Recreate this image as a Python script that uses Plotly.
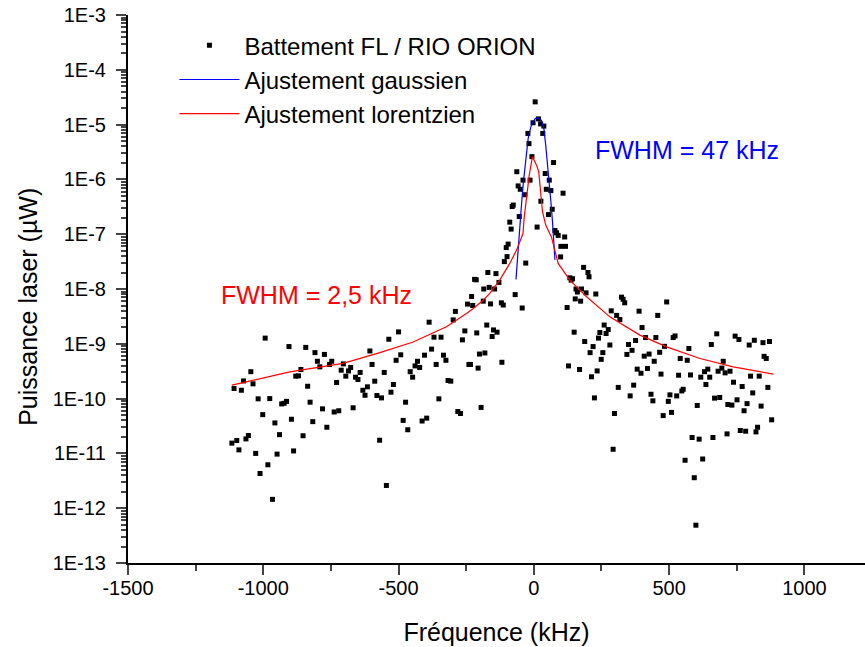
import plotly.graph_objects as go

# Battement FL / RIO ORION : points (kHz, µW)
freq_khz = [
    -1116, -1108, -1098, -1090, -1081, -1073, -1064, -1055, -1046, -1038, -1028, -1019,
    -1012, -1002, -993, -983, -976, -966, -957, -949, -940, -932, -923, -914, -905, -896,
    -888, -880, -870, -861, -853, -843, -836, -827, -817, -809, -800, -791, -781, -774,
    -765, -755, -747, -738, -729, -721, -712, -704, -695, -685, -677, -668, -659, -650,
    -642, -632, -624, -615, -606, -598, -588, -580, -570, -563, -553, -545, -536, -528,
    -519, -509, -500, -492, -483, -474, -466, -457, -448, -439, -430, -422, -413, -404,
    -396, -387, -378, -369, -361, -351, -343, -334, -325, -317, -307, -298, -290, -281,
    -271, -264, -255, -245, -240, -234, -230, -226, -219, -213, -211, -206, -201, -195,
    -187, -185, -181, -174, -170, -165, -160, -154, -149, -145, -140, -136, -129, -120,
    -118, -113, -109, -102, -99, -95, -89, -84, -80, -76, -69, -63, -58, -54, -50, -43,
    -40, -33, -30, -22, -18, -14, -7, -3, 5, 12, 17, 25, 26, 33, 37, 42, 46, 54, 57, 63,
    68, 73, 78, 84, 90, 99, 100, 108, 114, 117, 123, 128, 133, 138, 143, 149, 153, 156,
    161, 169, 173, 176, 184, 188, 193, 200, 204, 208, 213, 219, 224, 229, 234, 239, 244,
    249, 255, 260, 267, 275, 281, 286, 293, 298, 306, 312, 318, 324, 330, 336, 344, 350,
    356, 363, 369, 376, 382, 389, 396, 400, 408, 413, 420, 426, 433, 440, 445, 451, 458,
    465, 470, 478, 483, 491, 497, 503, 509, 515, 522, 528, 535, 541, 547, 552, 559, 567,
    573, 579, 585, 593, 599, 604, 611, 617, 624, 631, 636, 643, 650, 656, 662, 668, 676,
    681, 687, 695, 700, 707, 714, 717, 725, 732, 738, 744, 751, 758, 763, 770, 777, 783,
    788, 796, 801, 809, 815, 821, 827, 833, 840, 847, 851, 859, 865, 871, 879, 885,
]
power_uw = [
    1.54e-11, 1.53e-10, 1.72e-11, 1.16e-11, 1.42e-10, 2.1e-10, 1.84e-11, 2.12e-11, 3.1e-10,
    1.86e-10, 1.0e-11, 9.9e-11, 4.3e-12, 5.1e-11, 1.27e-9, 6.2e-12, 1.0e-10, 1.45e-12,
    3.6e-11, 9.7e-12, 2.2e-11, 8.0e-11, 8.2e-11, 8.9e-11, 8.9e-10, 4.2e-11, 1.11e-11,
    2.57e-10, 2.6e-10, 3.4e-10, 2.1e-11, 8.6e-10, 1.68e-10, 8.6e-11, 3.8e-11, 6.9e-10,
    4.8e-10, 3.8e-10, 6.5e-11, 6.4e-10, 3.0e-11, 4.2e-10, 4.8e-10, 5.7e-11, 1.97e-10,
    6.0e-11, 3.3e-10, 4.3e-10, 2.57e-10, 3.2e-10, 3.7e-10, 6.8e-11, 2.46e-10, 2.23e-10,
    3.0e-10, 1.42e-10, 1.15e-10, 1.64e-10, 7.4e-10, 4.2e-10, 2.08e-10, 1.14e-10, 1.74e-11,
    1.03e-10, 3.0e-10, 2.6e-12, 1.21e-9, 1.31e-10, 1.81e-10, 5.0e-10, 1.65e-9, 6.3e-10,
    4.0e-11, 8.6e-11, 2.7e-11, 3.1e-10, 2.46e-10, 3.95e-10, 4.8e-10, 3.7e-10, 3.9e-11,
    6.2e-10, 4.4e-11, 2.48e-9, 8.0e-10, 1.32e-9, 4.2e-10, 9.9e-11, 1.32e-9, 6.2e-10,
    5.0e-10, 2.14e-10, 2.08e-10, 2.73e-9, 3.9e-9, 5.8e-11, 5.35e-11, 1.18e-9, 1.72e-9,
    5.3e-9, 4.2e-10, 4.2e-10, 7.3e-9, 5.0e-9, 1.5e-8, 1.47e-8, 1.58e-9, 3.6e-10, 6.5e-10,
    6.9e-11, 6.0e-9, 1.0e-8, 6.8e-10, 2.2e-9, 2.0e-8, 1.07e-8, 5.35e-9, 1.36e-9, 1.79e-9,
    1.0e-8, 1.91e-8, 1.63e-9, 1.32e-8, 5.6e-9, 4.6e-10, 5.1e-9, 3.16e-8, 5.7e-8, 3.9e-8,
    6.6e-8, 1.66e-7, 1.24e-7, 3.2e-7, 3.4e-7, 7.9e-9, 1.38e-6, 7.6e-7, 2.1e-7, 6.6e-7,
    4.5e-9, 9.7e-7, 5.25e-7, 2.97e-8, 6.9e-6, 4.5e-6, 9.7e-7, 2.6e-6, 1.08e-5, 2.6e-5,
    1.35e-7, 1.27e-5, 1.03e-5, 4.0e-7, 6.9e-6, 9.4e-6, 1.28e-6, 6.6e-7, 2.28e-7, 9.7e-7,
    6.25e-7, 2.85e-7, 2.03e-6, 1.17e-7, 1.06e-7, 9.5e-8, 3.85e-8, 6.0e-8, 5.6e-7, 8.9e-8,
    6.0e-8, 4.6e-9, 3.95e-10, 1.6e-8, 1.45e-8, 1.54e-8, 1.63e-9, 6.6e-9, 1.0e-8, 8.8e-9,
    3.4e-10, 6.0e-9, 1.0e-8, 2.48e-8, 1.1e-9, 8.5e-9, 2.0e-8, 1.67e-8, 6.9e-10, 2.5e-10,
    8.9e-10, 1.03e-10, 8.1e-9, 3.2e-10, 1.27e-9, 1.61e-9, 5.2e-10, 6.9e-10, 2.2e-9, 1.54e-9,
    1.82e-9, 9.5e-10, 4.0e-9, 1.19e-11, 5.35e-11, 3.3e-9, 1.6e-10, 2.78e-9, 7.1e-9, 6.5e-9,
    5.6e-9, 6.4e-10, 9.7e-10, 1.12e-10, 7.6e-10, 1.76e-10, 1.15e-9, 3.45e-10, 3.94e-9,
    2.9e-10, 1.98e-9, 5.95e-10, 1.3e-9, 3.55e-10, 6.5e-10, 1.2e-10, 9.1e-11, 4.8e-10,
    1.3e-9, 3.3e-9, 7.0e-10, 2.8e-10, 4.9e-11, 9.0e-10, 5.8e-9, 8.9e-11, 1.17e-10, 5.6e-11,
    1.3e-9, 1.39e-9, 1.12e-10, 2.67e-10, 5.4e-10, 1.38e-10, 1.48e-10, 7.5e-12, 5.0e-10,
    8.2e-10, 2.7e-10, 1.95e-11, 3.6e-12, 4.9e-13, 7.5e-11, 1.82e-11, 2.46e-10, 7.9e-12,
    3.1e-10, 1.81e-10, 3.45e-10, 2.46e-10, 9.7e-10, 1.95e-11, 1.02e-10, 1.52e-9, 3.16e-10,
    1.05e-10, 3.6e-10, 4.8e-10, 2.95e-10, 2.27e-11, 7.8e-11, 3.16e-10, 7.6e-11, 1.99e-10,
    1.38e-9, 9.5e-11, 1.2e-9, 2.62e-11, 1.66e-10, 6.0e-11, 2.54e-11, 8.1e-11, 9.5e-10,
    2.57e-10, 1.27e-10, 1.16e-9, 2.47e-11, 3.0e-11, 2.57e-10, 7.3e-11, 1.05e-9, 5.9e-10,
    5.4e-10, 1.6e-10, 1.1e-9, 4.1e-11,
]

# Ajustement gaussien
gauss_khz = [-66, -58, -52, -45, -39, -33, -27, -21, -11, -3, 6, 16, 28, 37, 44, 50, 57, 63, 69, 78]
gauss_uw = [1.5e-8, 5.9e-8, 1.5e-7, 3.8e-7, 8.5e-7, 1.6e-6, 2.8e-6, 5.6e-6, 9.1e-6, 1.12e-5,
            1.3e-5, 1.33e-5, 1.2e-5, 8.5e-6, 4.2e-6, 2.1e-6, 9.1e-7, 3.9e-7, 1.68e-7, 3.4e-8]

# Ajustement lorentzien
lorentz_khz = [-1116, -902, -705, -569, -446, -323, -249, -224, -187, -163, -126, -89, -64,
               -40, -36, -27, -17, -5, 10, 18, 25, 32, 44, 65, 90, 133, 195, 281, 392, 491,
               614, 737, 885]
lorentz_uw = [1.76e-10, 3.07e-10, 4.4e-10, 6.9e-10, 1.08e-9, 2.04e-9, 3.57e-9, 4.4e-9, 6.25e-9,
              8.3e-9, 1.45e-8, 2.93e-8, 5.1e-8, 1.03e-7, 1.94e-7, 5.2e-7, 1.2e-6, 2.6e-6,
              1.82e-6, 1.38e-6, 5.2e-7, 2.57e-7, 1.47e-7, 8.9e-8, 2.93e-8, 1.45e-8, 7.2e-9,
              3.1e-9, 1.44e-9, 8.8e-10, 5.4e-10, 3.8e-10, 2.8e-10]

ytick_vals = [1e-13, 1e-12, 1e-11, 1e-10, 1e-9, 1e-8, 1e-7, 1e-6, 1e-5, 1e-4, 1e-3]
ytick_text = ["1E-13", "1E-12", "1E-11", "1E-10", "1E-9", "1E-8", "1E-7", "1E-6", "1E-5", "1E-4", "1E-3"]
xtick_vals = [-1500, -1000, -500, 0, 500, 1000]
xtick_text = ["-1500", "-1000", "-500", "0", "500", "1000"]

police = "Liberation Sans, Arial, sans-serif"

fig = go.Figure()
fig.add_trace(go.Scatter(x=freq_khz, y=power_uw, mode="markers", name="Battement FL / RIO ORION",
                         marker=dict(symbol="square", size=5, color="black")))
fig.add_trace(go.Scatter(x=gauss_khz, y=gauss_uw, mode="lines", name="Ajustement gaussien",
                         line=dict(color="#0000ff", width=1.2)))
fig.add_trace(go.Scatter(x=lorentz_khz, y=lorentz_uw, mode="lines", name="Ajustement lorentzien",
                         line=dict(color="#ff0000", width=1.2)))

# Annotations FWHM
fig.add_annotation(x=566, y=-5.47, text="FWHM = 47 kHz", showarrow=False,
                   font=dict(color="#0000ff", size=25, family=police))
fig.add_annotation(x=-802, y=-8.11, text="FWHM = 2,5 kHz", showarrow=False,
                   font=dict(color="#ff0000", size=25, family=police))

# Titre de l'axe Y placé à la main
fig.add_annotation(xref="paper", yref="paper", x=-0.136, y=0.467, xanchor="center", yanchor="middle",
                   text="Puissance laser (µW)", textangle=-90, showarrow=False,
                   font=dict(size=25, family=police))

minor_y = [k * 10.0 ** e for e in range(-13, -3) for k in range(2, 10)]

fig.update_layout(
    width=865, height=647,
    margin=dict(l=128, r=0, t=15, b=84),
    plot_bgcolor="white", paper_bgcolor="white",
    font=dict(family=police, color="black", size=20),
    legend=dict(x=0.063, y=0.985, xanchor="left", yanchor="top", bgcolor="rgba(0,0,0,0)",
                font=dict(size=24), itemwidth=60, tracegroupgap=0),
    xaxis=dict(range=[-1500, 1224], tickvals=xtick_vals, ticktext=xtick_text,
               ticks="outside", ticklen=10, tickwidth=1.5, ticklabelstandoff=-4,
               showline=True, linecolor="black", linewidth=2, showgrid=False, zeroline=False,
               automargin=False, ticklabeloverflow="allow",
               minor=dict(dtick=250, tick0=0, ticks="outside", ticklen=6, tickwidth=1.5),
               title=dict(text="Fréquence (kHz)", font=dict(size=25), standoff=25)),
    yaxis=dict(type="log", range=[-13, -3], tickvals=ytick_vals, ticktext=ytick_text,
               ticks="outside", ticklen=10, tickwidth=1.5, ticklabelstandoff=6,
               showline=True, linecolor="black", linewidth=2, showgrid=False, zeroline=False,
               automargin=False, ticklabeloverflow="allow",
               minor=dict(tickvals=minor_y, ticks="outside", ticklen=5, tickwidth=1.5)),
)

# supprimer la marge par défaut de la page pour que la figure occupe toute la fenêtre
fig.write_html("out.html", config={"displayModeBar": False},
               post_script="document.body.style.margin = '0';")
